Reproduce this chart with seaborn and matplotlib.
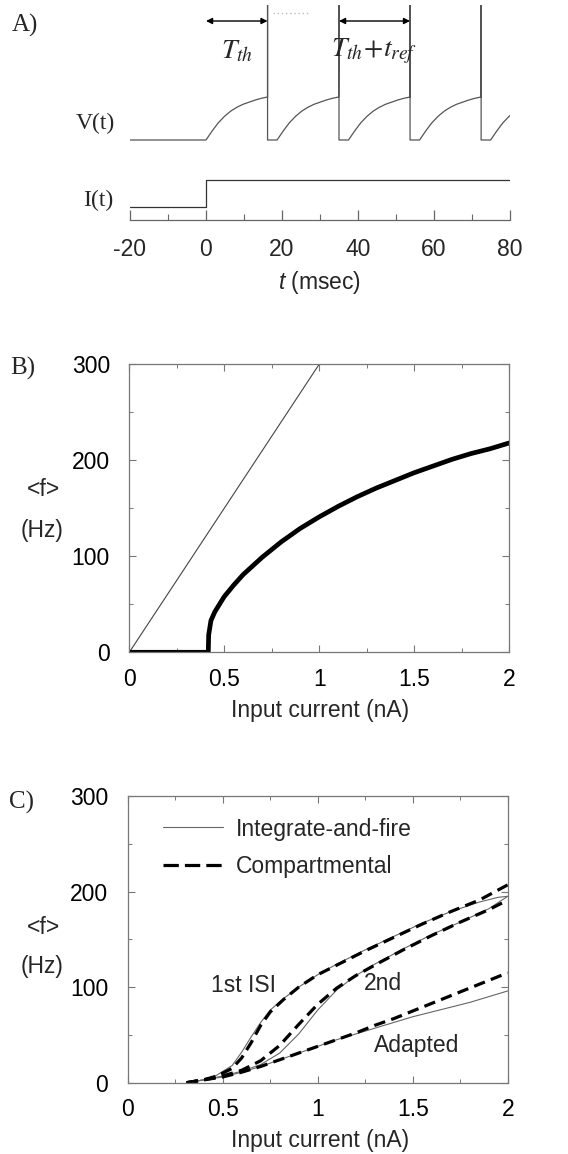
import numpy as np
import pandas as pd
import matplotlib
matplotlib.use("Agg")
import matplotlib.pyplot as plt
import seaborn as sns
from matplotlib.ticker import MultipleLocator
from matplotlib.lines import Line2D

# ---------------- data ----------------
# Panel A: integrate-and-fire voltage trace
spike_times = [16.2, 35.0, 53.7, 72.4]        # ms
T_th = 16.2                                    # ms, time to threshold
t_ref = 2.5                                    # ms, refractory period
rise_frac = [0.0, 0.1, 0.2, 0.3, 0.4, 0.5, 0.6, 0.7, 0.8, 0.9, 1.0]   # fraction of T_th
rise_v = [0.0, 0.21, 0.40, 0.55, 0.67, 0.76, 0.83, 0.88, 0.93, 0.97, 1.0]  # fraction of threshold
t_start, t_end = -20.0, 80.0
I_step_time = 0.0
I_low, I_high = 0.0, 1.0
A_ticks = [-20, 0, 20, 40, 60, 80]

# Panel B: firing rate vs input current
lin_I = [0.0, 1.0]
lin_f = [0.0, 300.0]
lif_I = [0.0, 0.416, 0.418, 0.43, 0.45, 0.50, 0.55, 0.60, 0.65, 0.70, 0.75, 0.80, 0.85,
         0.90, 0.95, 1.00, 1.10, 1.20, 1.30, 1.40, 1.50, 1.60, 1.70, 1.80, 1.90, 2.00]
lif_f = [0, 0, 18, 33, 42, 58, 70, 81, 90, 99, 107, 115, 122,
         129, 135, 141, 152, 162, 171, 179, 187, 194, 201, 207, 212, 218]

# Panel C: 1st ISI, 2nd ISI and adapted rates
first_I_ifc = [0.31, 0.40, 0.47, 0.55, 0.60, 0.65, 0.70, 0.75, 0.82, 0.90, 1.00, 1.10,
               1.25, 1.40, 1.55, 1.70, 1.85, 1.95, 2.00]
first_f_ifc = [0, 3, 8, 18, 32, 48, 63, 76, 88, 100, 113, 124, 139, 153, 167, 179, 189, 194, 195]
first_I_comp = [0.31, 0.40, 0.47, 0.55, 0.60, 0.65, 0.70, 0.75, 0.82, 0.90, 1.00, 1.10,
                1.25, 1.40, 1.55, 1.70, 1.85, 2.00]
first_f_comp = [0, 3, 7, 15, 26, 42, 60, 74, 87, 100, 113, 123, 138, 152, 166, 179, 191, 207]

second_I = [0.31, 0.40, 0.50, 0.60, 0.70, 0.80, 0.90, 1.00, 1.10, 1.20, 1.30, 1.45,
            1.60, 1.75, 1.90, 2.00]
second_f_comp = [0, 3, 7, 13, 23, 39, 61, 82, 99, 112, 123, 139, 154, 168, 181, 191]
second_f_ifc = [0, 3, 7, 12, 19, 31, 51, 76, 97, 112, 124, 140, 155, 168, 182, 195]

adapt_I = [0.31, 0.40, 0.50, 0.60, 0.70, 0.80, 0.90, 1.00, 1.10, 1.20, 1.30, 1.40,
           1.50, 1.60, 1.70, 1.80, 1.90, 2.00]
adapt_f_comp = [0, 3, 6, 11, 17, 24, 31, 38, 45, 52, 60, 67, 75, 83, 91, 99, 107, 115]
adapt_f_ifc = [0, 3, 6, 11, 17, 24, 31, 38, 45, 51, 57, 63, 69, 74, 79, 84, 90, 96]

legend_labels = ["Integrate-and-fire", "Compartmental"]
curve_labels = ["1st ISI", "2nd", "Adapted"]
rate_ticks = [0, 100, 200, 300]
current_ticks = [0, 0.5, 1, 1.5, 2]
current_ticklabels = ["0", "0.5", "1", "1.5", "2"]

# ---------------- style ----------------
sns.set_theme(style="ticks")
plt.rcParams["font.family"] = ["Liberation Sans", "DejaVu Sans"]
plt.rcParams["mathtext.fontset"] = "custom"
plt.rcParams["mathtext.it"] = "Liberation Sans:italic"
plt.rcParams["mathtext.rm"] = "Liberation Sans"
plt.rcParams["axes.unicode_minus"] = False
SERIF = ["Liberation Serif", "DejaVu Serif"]
FS = 16.5

W, H = 568, 1154
fig = plt.figure(figsize=(W / 100, H / 100), dpi=100)


def px_axes(left, top, right, bottom):
    return fig.add_axes([left / W, 1 - bottom / H, (right - left) / W, (bottom - top) / H])


def ftext(x, y, s, **kw):
    fig.text(x / W, 1 - y / H, s, **kw)


def line(ax, x, y, **kw):
    sns.lineplot(x=x, y=y, ax=ax, estimator=None, sort=False, legend=False, **kw)


# ---------------- Panel A ----------------
axA = px_axes(130, 5, 510, 220)
V_base, V_scale = 80.0, 43.0
I_base, I_scale = 13.0, 27.0
top_val = 215.0

vt, vv = [t_start, 0.0], [V_base, V_base]
onset = 0.0
for ts in spike_times + [None]:
    for fr, v in zip(rise_frac, rise_v):
        vt.append(onset + fr * T_th)
        vv.append(V_base + V_scale * v)
    if ts is None:
        break
    vt += [ts, ts, ts + t_ref]
    vv += [top_val, V_base, V_base]
    onset = ts + t_ref
line(axA, vt, vv, color="#555555", linewidth=0.9)

it = [t_start, I_step_time, I_step_time, t_end]
iv = [I_base + I_scale * I_low, I_base + I_scale * I_low,
      I_base + I_scale * I_high, I_base + I_scale * I_high]
line(axA, it, iv, color="#333333", linewidth=0.9)

# faint dotted trace at top
line(axA, [17.5, 27.0], [top_val - 8, top_val - 8], color="#bbbbbb", linewidth=1.0,
     linestyle=(0, (1, 2)))

axA.set_xlim(t_start, t_end)
axA.set_ylim(0, top_val)
for s in ["left", "right", "top"]:
    axA.spines[s].set_visible(False)
axA.spines["bottom"].set_color("#666666")
axA.spines["bottom"].set_linewidth(0.9)
axA.set_yticks([])
axA.set_xticks(A_ticks)
axA.xaxis.set_minor_locator(MultipleLocator(10))
axA.tick_params(axis="x", which="major", direction="in", length=7, width=0.9,
                color="#666666", labelsize=FS, pad=13)
axA.tick_params(axis="x", which="minor", direction="in", length=4, width=0.8, color="#666666")
axA.set_xlabel("")

arr_y = 199
axA.annotate("", xy=(spike_times[0], arr_y), xytext=(0, arr_y),
             arrowprops=dict(arrowstyle="<|-|>", color="black", lw=1.0,
                             mutation_scale=9, shrinkA=0, shrinkB=0))
axA.annotate("", xy=(spike_times[2], arr_y), xytext=(spike_times[1], arr_y),
             arrowprops=dict(arrowstyle="<|-|>", color="black", lw=1.0,
                             mutation_scale=9, shrinkA=0, shrinkB=0))
axA.text(spike_times[0] / 2, 169, r"$T_{th}$", ha="center", va="center",
         fontsize=20, math_fontfamily="stix")
axA.text((spike_times[1] + spike_times[2]) / 2, 169, r"$T_{th}\!+\!t_{ref}$",
         ha="center", va="center", fontsize=20, math_fontfamily="stix")

ftext(25, 25, "A)", family=SERIF, fontsize=18, ha="center", va="center")
ftext(115, 123, "V(t)", family=SERIF, fontsize=17, ha="right", va="center")
ftext(113, 200, "I(t)", family=SERIF, fontsize=17, ha="right", va="center")
ftext(320, 283, r"$t$ (msec)", fontsize=FS, ha="center", va="center")


def style_rate_axes(ax):
    ax.set_xlim(0, 2)
    ax.set_ylim(0, 300)
    ax.set_xticks(current_ticks)
    ax.set_xticklabels(current_ticklabels)
    ax.set_yticks(rate_ticks)
    ax.xaxis.set_minor_locator(MultipleLocator(0.25))
    ax.yaxis.set_minor_locator(MultipleLocator(50))
    for s in ax.spines.values():
        s.set_color("#777777")
        s.set_linewidth(0.9)
    ax.tick_params(which="both", direction="in", top=True, right=True,
                   color="#777777", labelcolor="black", labelsize=FS)
    ax.tick_params(which="major", length=5, width=0.8)
    ax.tick_params(which="minor", length=3, width=0.7)
    ax.tick_params(axis="x", pad=11)
    ax.tick_params(axis="y", pad=14)
    ax.set_xlabel("")
    ax.set_ylabel("")


# ---------------- Panel B ----------------
axB = px_axes(129.3, 364.3, 509, 652.3)
line(axB, lin_I, lin_f, color="#444444", linewidth=0.8)
line(axB, lif_I, lif_f, color="black", linewidth=3.4)
style_rate_axes(axB)
ftext(23, 368, "B)", family=SERIF, fontsize=18, ha="center", va="center")
ftext(43, 490, "<f>", fontsize=FS, ha="center", va="center")
ftext(42, 530, "(Hz)", fontsize=FS, ha="center", va="center")
ftext(320, 710, "Input current (nA)", fontsize=FS, ha="center", va="center")

# ---------------- Panel C ----------------
axC = px_axes(127.7, 796, 507.7, 1082.7)
thin = dict(color="#666666", linewidth=0.8)
dash = dict(color="black", linewidth=2.3, linestyle=(0, (3.6, 2.0)))
line(axC, first_I_ifc, first_f_ifc, **thin)
line(axC, second_I, second_f_ifc, **thin)
line(axC, adapt_I, adapt_f_ifc, **thin)
line(axC, first_I_comp, first_f_comp, **dash)
line(axC, second_I, second_f_comp, **dash)
line(axC, adapt_I, adapt_f_comp, **dash)
style_rate_axes(axC)

handles = [Line2D([], [], color="#666666", linewidth=0.8),
           Line2D([], [], color="black", linewidth=2.3, linestyle=(0, (4.8, 1.9)))]
axC.legend(handles, legend_labels, loc="upper left", bbox_to_anchor=(0.093, 0.925),
           frameon=False, fontsize=FS, handlelength=2.6, handletextpad=0.6,
           borderpad=0, borderaxespad=0, labelspacing=0.62)

axC.text(0.608, 102, curve_labels[0], fontsize=FS, ha="center", va="center")
axC.text(1.345, 104, curve_labels[1], fontsize=FS, ha="center", va="center")
axC.text(1.52, 39, curve_labels[2], fontsize=FS, ha="center", va="center")

ftext(22, 802, "C)", family=SERIF, fontsize=18, ha="center", va="center")
ftext(43, 927, "<f>", fontsize=FS, ha="center", va="center")
ftext(42, 967, "(Hz)", fontsize=FS, ha="center", va="center")
ftext(320, 1140, "Input current (nA)", fontsize=FS, ha="center", va="center")

fig.savefig("out.png", dpi=100)
